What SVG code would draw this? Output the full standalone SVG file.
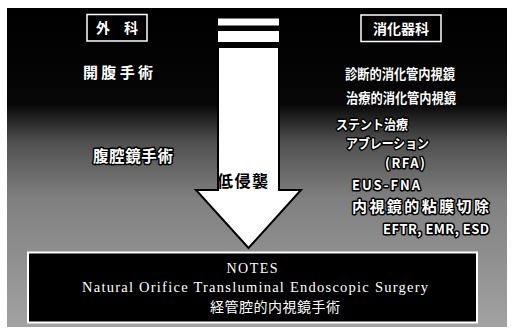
<svg xmlns="http://www.w3.org/2000/svg" width="517" height="328" viewBox="0 0 517 328">
<defs>
<linearGradient id="bg" x1="0" y1="8" x2="0" y2="327" gradientUnits="userSpaceOnUse">
<stop offset="0" stop-color="#000"/>
<stop offset="0.3" stop-color="#060606"/>
<stop offset="0.42" stop-color="#505050"/>
<stop offset="0.6" stop-color="#808080"/>
<stop offset="1" stop-color="#a2a2a2"/>
</linearGradient>
<style>
.jp{font-family:"Noto Sans CJK JP","Noto Sans CJK SC",sans-serif;font-weight:bold;fill:#fff}
.halo{stroke:#000;stroke-width:3;paint-order:stroke;stroke-linejoin:round}
.hdr{fill:#000;stroke:#fff;stroke-width:1.5}
.en{font-family:"Liberation Serif",serif;fill:#fff}
.c{text-anchor:middle}
</style>
</defs>
<rect x="0" y="0" width="517" height="328" fill="#fff"/>
<rect x="7" y="8" width="500" height="319" fill="url(#bg)"/>

<g id="header-surgery">
<rect class="hdr" x="87" y="14.5" width="60" height="26.5"/>
<text class="jp c" x="117" y="33" font-size="14">外　科</text>
</g>
<g id="header-gastro">
<rect class="hdr" x="361" y="15" width="80" height="26.5"/>
<text class="jp c" x="401" y="33.5" font-size="14">消化器科</text>
</g>

<g id="open-surgery">
<text class="jp c" x="118" y="78" font-size="15" textLength="70">開腹手術</text>
</g>
<g id="laparoscopic">
<text class="jp halo c" x="133" y="162" font-size="15.5" textLength="80">腹腔鏡手術</text>
</g>

<g id="endoscopy">
<text class="jp" x="345" y="79" font-size="13.5" textLength="110" lengthAdjust="spacingAndGlyphs">診断的消化管内視鏡</text>
<text class="jp" x="346" y="103" font-size="13.5" textLength="110" lengthAdjust="spacingAndGlyphs">治療的消化管内視鏡</text>
<text class="jp halo" x="336" y="129" font-size="13" textLength="72" lengthAdjust="spacingAndGlyphs">ステント治療</text>
<text class="jp halo" x="346" y="148" font-size="13" textLength="83" lengthAdjust="spacingAndGlyphs">アブレーション</text>
<text class="jp halo" x="385" y="168" font-size="13" textLength="40">(RFA)</text>
<text class="jp halo" x="352" y="190" font-size="13" textLength="68">EUS-FNA</text>
<text class="jp halo" x="352" y="212" font-size="15" textLength="137">内視鏡的粘膜切除</text>
<text class="jp halo" x="383" y="234" font-size="13" textLength="106">EFTR, EMR, ESD</text>
</g>

<g id="connectors">
<rect x="218" y="18.5" width="61" height="7" fill="#fff"/>
<rect x="218" y="31" width="61" height="11" fill="#fff"/>
<polygon points="218,47 279,47 279,190 301,190 248.5,248 196,190 218,190" fill="#fff" stroke="#000" stroke-width="2" stroke-linejoin="miter"/>
<text x="217" y="187" font-family="'Noto Sans CJK JP','Noto Sans CJK SC',sans-serif" font-weight="bold" font-size="16" fill="#000" textLength="51">低侵襲</text>
</g>

<g id="notes">
<rect x="28" y="252.5" width="449" height="70" fill="#000" stroke="#fff" stroke-width="2"/>
<text class="en c" x="252" y="273" font-size="14" textLength="51">NOTES</text>
<text class="en c" x="255" y="292" font-size="14.5" textLength="346">Natural Orifice  Transluminal Endoscopic Surgery</text>
<text class="jp c" x="275" y="312" font-size="14" style="font-weight:normal" textLength="130">経管腔的内視鏡手術</text>
</g>
</svg>
